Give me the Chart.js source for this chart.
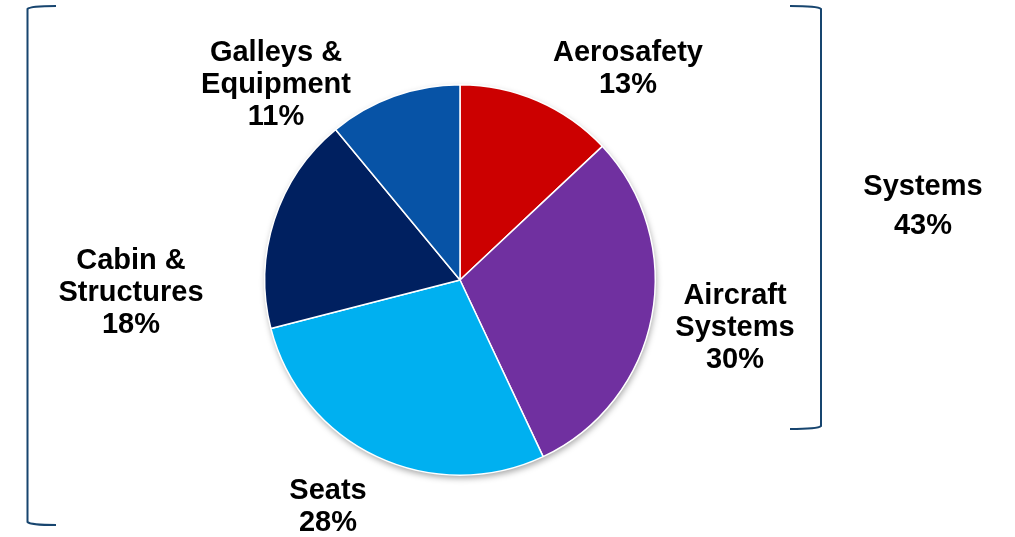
<!DOCTYPE html>
<html>
<head>
<meta charset="utf-8">
<script src="https://cdn.jsdelivr.net/npm/chart.js@4.4.0/dist/chart.umd.min.js"></script>
<style>
  html, body { margin: 0; padding: 0; background: #ffffff; }
  #wrap { width: 1015px; height: 537px; position: relative; }
</style>
</head>
<body>
<div id="wrap"><canvas id="pie-chart" width="1015" height="537"></canvas></div>
<script>
// segment data, clockwise from 12 o'clock
var categories = ['Aerosafety', 'Aircraft Systems', 'Seats', 'Cabin & Structures', 'Galleys & Equipment'];
var shares = [13, 30, 28, 18, 11];
var sliceColors = ['#CC0000', '#7030A0', '#00B0F0', '#002060', '#0753A6'];
// label lines shown next to each slice
var labelLines = [
    ['Aerosafety'],
    ['Aircraft', 'Systems'],
    ['Seats'],
    ['Cabin &', 'Structures'],
    ['Galleys &', 'Equipment']
];
var groupLabel = ['Systems', '43%'];

// where each label block starts (center x, first line y)
var labelSpots = [
    { x: 628, y: 53 },
    { x: 735, y: 296 },
    { x: 328, y: 491 },
    { x: 131, y: 261 },
    { x: 276, y: 53 }
];

var labelsPlugin = {
    id: 'sliceLabels',
    beforeDatasetsDraw: function (chart) {
        var ctx = chart.ctx;
        ctx.save();
        ctx.shadowColor = 'rgba(0,0,0,0.35)';
        ctx.shadowBlur = 6;
        ctx.shadowOffsetX = 1;
        ctx.shadowOffsetY = 3;
        var arc = chart.getDatasetMeta(0).data[0];
        ctx.beginPath();
        ctx.arc(arc.x, arc.y, arc.outerRadius, 0, Math.PI * 2);
        ctx.fillStyle = '#ffffff';
        ctx.fill();
        ctx.restore();
    },
    afterDraw: function (chart) {
        var ctx = chart.ctx;
        ctx.save();
        ctx.fillStyle = '#000000';
        ctx.font = 'bold 29px "Liberation Sans", Arial, sans-serif';
        ctx.textAlign = 'center';
        ctx.textBaseline = 'middle';
        for (var i = 0; i < categories.length; i++) {
            var lines = labelLines[i].concat([shares[i] + '%']);
            for (var j = 0; j < lines.length; j++) {
                ctx.fillText(lines[j], labelSpots[i].x, labelSpots[i].y + j * 32);
            }
        }
        ctx.fillText(groupLabel[0], 923, 187);
        ctx.fillText(groupLabel[1], 923, 226);

        // brackets
        ctx.strokeStyle = '#17456F';
        ctx.lineWidth = 2;
        ctx.lineJoin = 'round';
        ctx.beginPath();
        ctx.moveTo(56, 6);
        ctx.quadraticCurveTo(30, 6, 27.5, 9);
        ctx.lineTo(27.5, 522);
        ctx.quadraticCurveTo(30, 525, 56, 525);
        ctx.stroke();

        ctx.beginPath();
        ctx.moveTo(790, 6);
        ctx.quadraticCurveTo(818, 6, 821, 9);
        ctx.lineTo(821, 426);
        ctx.quadraticCurveTo(818, 429, 790, 429);
        ctx.stroke();
        ctx.restore();
    }
};

var ctx = document.getElementById('pie-chart').getContext('2d');
var myChart = new Chart(ctx, {
    type: 'pie',
    data: {
        labels: categories,
        datasets: [{
            data: shares,
            backgroundColor: sliceColors,
            borderColor: '#ffffff',
            borderWidth: 1.5
        }]
    },
    options: {
        responsive: false,
        animation: false,
        layout: {
            padding: { left: 263, right: 358, top: 84, bottom: 61 }
        },
        plugins: {
            legend: { display: false },
            tooltip: { enabled: false }
        }
    },
    plugins: [labelsPlugin]
});
</script>
</body>
</html>
